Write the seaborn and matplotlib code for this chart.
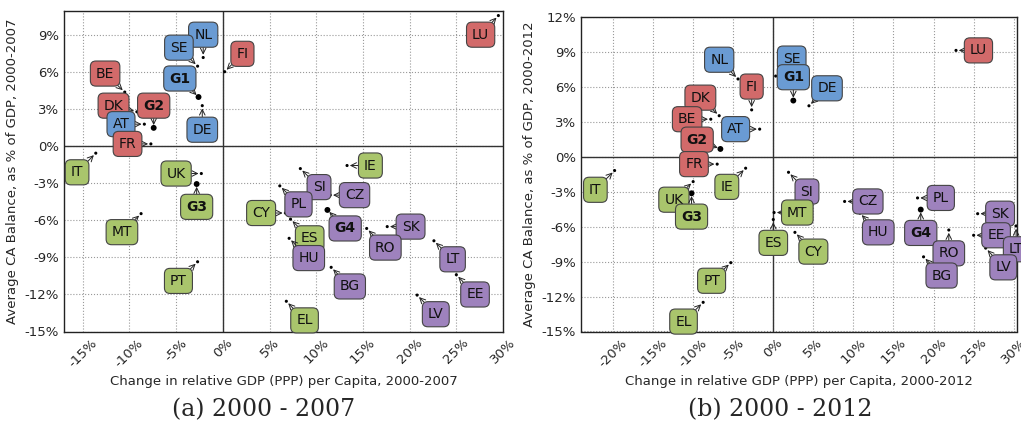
import matplotlib
matplotlib.use("Agg")
import matplotlib.pyplot as plt
import seaborn as sns
import pandas as pd
from matplotlib.ticker import FuncFormatter, MultipleLocator

sns.set_style("white")
plt.rcParams['font.family'] = ['DejaVu Sans']

COLORS = {"blue": "#6a9bd3", "red": "#d26a6a", "green": "#a9c56c", "purple": "#9e82bd"}

# ---- Panel (a) 2000-2007 ----
a_names = ["LU","NL","SE","FI","BE","G1","DK","G2","DE","AT","FR","IT","UK","G3","MT","PT",
           "IE","SI","CZ","PL","CY","G4","SK","ES","RO","LT","HU","BG","EE","LV","EL"]
a_group = ["red","blue","blue","red","red","blue","red","red","blue","blue","red","green","green","green","green","green",
           "green","purple","purple","purple","green","purple","purple","green","purple","purple","purple","purple","purple","purple","green"]
a_x = [29.5,-2.1,-2.7,0.2,-10.5,-2.6,-9.2,-7.4,-2.2,-8.4,-7.7,-13.6,-2.3,-2.8,-8.75,-2.7,
       13.3,8.3,11.5,6.1,6.7,11.2,17.6,7.25,15.4,22.6,7.1,11.6,25.0,20.8,6.8]
a_y = [10.6,7.2,6.5,6.05,4.4,4.0,2.8,1.5,3.3,1.8,0.2,-0.55,-2.2,-3.05,-5.45,-9.35,
       -1.55,-1.8,-3.95,-3.2,-5.4,-5.15,-6.5,-5.9,-6.65,-7.65,-7.45,-9.8,-10.4,-12.05,-12.55]
a_lx = [27.6,-2.1,-4.7,2.1,-12.6,-4.6,-11.7,-7.4,-2.2,-10.9,-10.2,-15.6,-5.0,-2.8,-10.8,-4.75,
        15.8,10.3,14.1,8.1,4.1,13.1,20.1,9.3,17.4,24.6,9.2,13.6,27.0,22.8,8.75]
a_ly = [9.05,9.05,8.0,7.5,5.9,5.5,3.3,3.3,1.35,1.8,0.2,-2.1,-2.2,-4.9,-6.95,-10.9,
        -1.55,-3.3,-3.95,-4.7,-5.4,-6.65,-6.5,-7.45,-8.2,-9.15,-9.05,-11.35,-12.0,-13.6,-14.1]

# ---- Panel (b) 2000-2012 ----
b_names = ["LU","NL","SE","G1","FI","DE","DK","BE","AT","G2","FR","IT","IE","UK","G3","SI",
           "CZ","PL","MT","ES","HU","G4","SK","CY","RO","EE","LT","LV","BG","PT","EL"]
b_group = ["red","blue","blue","blue","red","blue","red","red","blue","red","red","green","green","green","green","purple",
           "purple","purple","green","green","purple","purple","purple","green","purple","purple","purple","purple","purple","green","green"]
b_x = [22.8,-4.4,0.3,2.5,-2.7,4.45,-6.75,-7.8,-1.7,-6.6,-7.0,-19.8,-3.45,-10.0,-10.2,1.9,
       8.9,18.0,0.1,0.0,10.8,18.4,25.5,2.7,21.9,25.0,30.3,26.5,18.75,-5.3,-8.75]
b_y = [9.1,6.65,6.9,4.8,4.0,4.35,3.5,3.2,2.35,0.65,-0.65,-1.2,-1.0,-2.15,-3.15,-1.35,
       -3.85,-3.55,-4.8,-5.4,-4.85,-4.55,-4.9,-6.5,-6.3,-6.75,-5.95,-7.85,-8.6,-9.1,-12.5]
b_lx = [25.6,-6.75,2.3,2.5,-2.7,6.7,-9.1,-10.75,-4.7,-9.5,-9.9,-22.2,-5.8,-12.4,-10.2,4.2,
        11.8,20.9,3.0,0.0,13.1,18.4,28.3,5.0,21.9,27.8,30.3,28.7,21.0,-7.7,-11.2]
b_ly = [9.1,8.3,8.4,6.8,6.0,5.85,5.05,3.2,2.35,1.45,-0.65,-2.85,-2.6,-3.7,-5.15,-3.0,
        -3.85,-3.55,-4.8,-7.4,-6.5,-6.55,-4.9,-8.15,-8.3,-6.75,-7.95,-9.5,-10.2,-10.65,-14.15]

fig = plt.figure(figsize=(10.21, 4.25), dpi=100)
ax1 = fig.add_axes([0.0627, 0.22, 0.43, 0.755])
ax2 = fig.add_axes([0.569, 0.22, 0.427, 0.741])

def draw(ax, names, groups, xs, ys, lxs, lys, xlim, ylim, years):
    df = pd.DataFrame({"x": xs, "y": ys, "name": names})
    df["size"] = [18 if n.startswith("G") else 5 for n in names]
    sns.scatterplot(data=df, x="x", y="y", size="size", sizes=(5, 18), color="black",
                    edgecolor="none", legend=False, ax=ax, zorder=3)
    for n, g, x, y, lx, ly in zip(names, groups, xs, ys, lxs, lys):
        bold = n.startswith("G")
        ax.annotate(n, xy=(x, y), xytext=(lx, ly), ha="center", va="center",
                    fontsize=10, fontweight="bold" if bold else "normal", color="#111111",
                    bbox=dict(boxstyle="round,pad=0.4", fc=COLORS[g], ec="#444444", lw=0.8),
                    arrowprops=dict(arrowstyle="->", color="#222222", lw=0.7, shrinkA=0, shrinkB=2),
                    zorder=4, annotation_clip=False)
    ax.axhline(0, color="#333333", lw=1, zorder=1)
    ax.axvline(0, color="#333333", lw=1, zorder=1)
    ax.set_xlim(*xlim)
    ax.set_ylim(*ylim)
    ax.xaxis.set_major_locator(MultipleLocator(5))
    ax.yaxis.set_major_locator(MultipleLocator(3))
    fmt = FuncFormatter(lambda v, p: "%d%%" % round(v))
    ax.xaxis.set_major_formatter(fmt)
    ax.yaxis.set_major_formatter(fmt)
    ax.grid(True, linestyle=":", color="#999999", lw=0.8)
    ax.tick_params(axis="both", labelsize=9.5, length=0)
    plt.setp(ax.get_xticklabels(), rotation=45)
    ax.set_xlabel("Change in relative GDP (PPP) per Capita, %s" % years, fontsize=9.5)
    ax.set_ylabel("Average CA Balance, as % of GDP, " + years, fontsize=9.5)
    for s in ax.spines.values():
        s.set_color("#222222")
        s.set_linewidth(1)

draw(ax1, a_names, a_group, a_x, a_y, a_lx, a_ly, (-17, 30), (-15, 11), "2000-2007")
draw(ax2, b_names, b_group, b_x, b_y, b_lx, b_ly, (-24, 30.4), (-15, 12), "2000-2012")

fig.text(0.258, 0.035, "(a) 2000 - 2007", ha="center", va="center", fontsize=17,
         family=["DejaVu Serif"])
fig.text(0.764, 0.035, "(b) 2000 - 2012", ha="center", va="center", fontsize=17,
         family=["DejaVu Serif"])

fig.savefig("out.png", dpi=100)
